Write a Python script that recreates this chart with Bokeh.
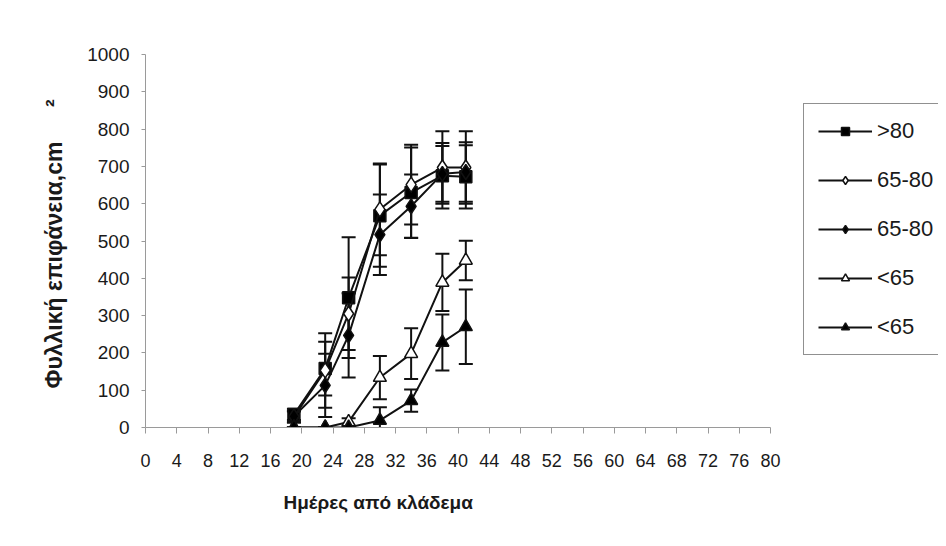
from bokeh.plotting import figure
from bokeh.layouts import row
from bokeh.models import (ColumnDataSource, Whisker, TeeHead, FixedTicker, Range1d,
                          Legend, LegendItem, Title)
from bokeh.embed import file_html
from bokeh.resources import INLINE

# ---- data ----
days = [19, 23, 26, 30, 34, 38, 41]
series_names = [">80", "65-80", "65-80", "<65", "<65"]
gt80 = [35, 158, 348, 568, 630, 675, 672]
gt80_err = [15, 72, 162, 137, 121, 88, 85]
mid_open = [28, 153, 305, 585, 651, 697, 697]
mid_open_err = [15, 100, 97, 123, 107, 97, 97]
mid_fill = [30, 113, 247, 517, 593, 680, 685]
mid_fill_err = [15, 85, 113, 108, 85, 75, 80]
lt65_open = [0, 0, 15, 134, 198, 389, 448]
lt65_open_err = [0, 0, 10, 58, 68, 77, 53]
lt65_fill = [0, 0, 0, 19, 72, 228, 270]
lt65_fill_err = [0, 0, 0, 35, 30, 75, 100]
x_ticks = list(range(0, 81, 4))
y_ticks = list(range(0, 1001, 100))
x_title = "Ημέρες από κλάδεμα"
y_title = "Φυλλική επιφάνεια,cm\u2003\u2002²"

FONT = "Liberation Sans"

p = figure(width=803, height=538, output_backend="svg", toolbar_location=None,
           x_range=Range1d(0, 80), y_range=Range1d(0, 1000),
           min_border_left=145, min_border_right=33, min_border_top=54,
           min_border_bottom=111)
p.outline_line_color = None
p.xgrid.grid_line_color = None
p.ygrid.grid_line_color = None
p.background_fill_color = "white"
p.border_fill_color = "white"

for ax in (p.xaxis[0], p.yaxis[0]):
    ax.axis_line_color = "#9a9a9a"
    ax.major_tick_line_color = "#9a9a9a"
    ax.minor_tick_line_color = None
    ax.major_label_text_font = FONT
    ax.major_label_text_color = "#1a1a1a"
    ax.major_tick_in = 0
p.xaxis[0].major_label_text_font_size = "18px"
p.yaxis[0].major_label_text_font_size = "19px"
p.xaxis[0].ticker = FixedTicker(ticks=x_ticks)
p.yaxis[0].ticker = FixedTicker(ticks=y_ticks)
p.xaxis[0].major_tick_out = 6
p.yaxis[0].major_tick_out = 4
p.xaxis[0].major_label_standoff = 20
p.yaxis[0].major_label_standoff = 12

series = [
    (gt80, gt80_err, "square", "black", 12),
    (mid_open, mid_open_err, "diamond", "white", 15),
    (mid_fill, mid_fill_err, "diamond", "black", 15),
    (lt65_open, lt65_open_err, "triangle", "white", 13),
    (lt65_fill, lt65_fill_err, "triangle", "black", 13),
]

# error bars first
for vals, errs, mk, fill, sz in series:
    src = ColumnDataSource(dict(x=days,
                                lo=[v - e for v, e in zip(vals, errs)],
                                hi=[v + e for v, e in zip(vals, errs)]))
    w = Whisker(source=src, base="x", lower="lo", upper="hi",
                line_color="#111111", line_width=2,
                upper_head=TeeHead(size=14, line_color="#111111", line_width=2),
                lower_head=TeeHead(size=14, line_color="#111111", line_width=2))
    p.add_layout(w)

for vals, errs, mk, fill, sz in series:
    src = ColumnDataSource(dict(x=days, y=vals))
    p.line("x", "y", source=src, line_color="#111111", line_width=2)
    p.scatter("x", "y", source=src, marker=mk, size=sz,
              fill_color=fill, line_color="#111111", line_width=1.5)

# axis titles
xt = Title(text=x_title, align="left", offset=138, text_font=FONT,
           text_font_style="bold", text_font_size="19px",
           text_color="#1a1a1a", standoff=40)
p.add_layout(xt, "below")
yt = Title(text=y_title, align="left", offset=39, text_font=FONT,
           text_font_style="bold", text_font_size="23px",
           text_color="#1a1a1a", standoff=36)
p.add_layout(yt, "left")

# legend panel (separate figure to the right of the chart)
lg = figure(width=135, height=538, output_backend="svg", toolbar_location=None,
            x_range=Range1d(0, 1), y_range=Range1d(0, 1),
            x_axis_location=None, y_axis_location=None, min_border=0)
lg.outline_line_color = None
lg.xgrid.grid_line_color = None
lg.ygrid.grid_line_color = None
lg.background_fill_color = "white"
lg.border_fill_color = "white"
items = []
for (vals, errs, mk, fill, sz), name in zip(series, series_names):
    # off-range sample point: only used to draw the legend glyph
    ln = lg.line(x=[-5, -4], y=[-5, -5], line_color="#111111", line_width=2)
    sc = lg.scatter(x=[-5], y=[-5], marker=mk, size=sz - 2,
                    fill_color=fill, line_color="#111111", line_width=1.5)
    items.append(LegendItem(label=name, renderers=[ln, sc]))
legend = Legend(items=items, location=(0, 72),
                border_line_color="#222222", border_line_width=1,
                background_fill_color="white", background_fill_alpha=1,
                label_text_font=FONT, label_text_font_size="22px",
                label_text_color="#1a1a1a",
                glyph_width=54, glyph_height=20, label_height=20,
                label_standoff=5, spacing=23, padding=14, margin=0,
                label_width=60)
lg.add_layout(legend, "center")

layout = row(p, lg, spacing=0)
open("out.html", "w").write(file_html(layout, INLINE))
